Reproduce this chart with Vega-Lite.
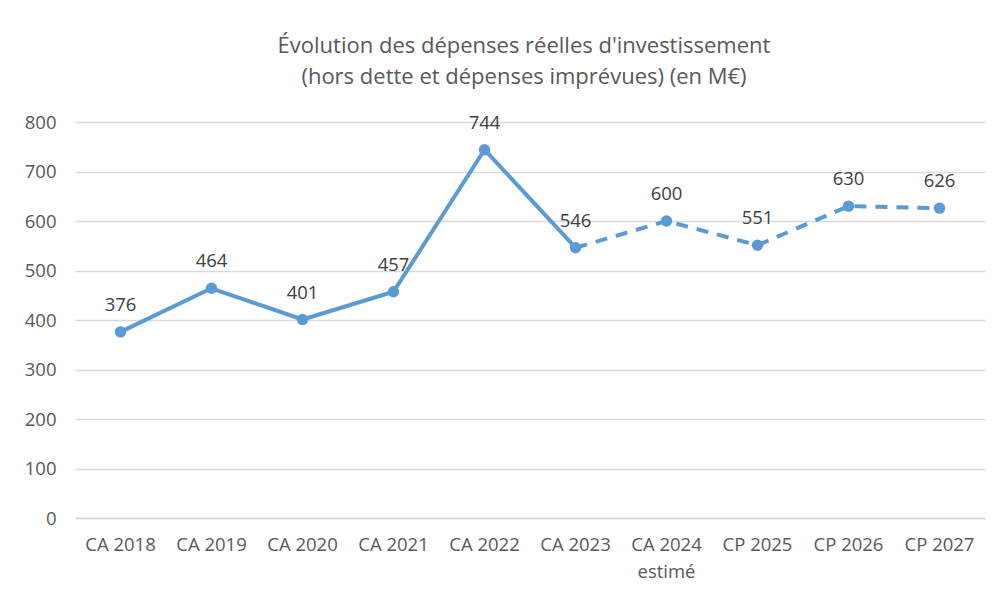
{
  "$schema": "https://vega.github.io/schema/vega-lite/v6.json",
  "autosize": "none",
  "width": 910,
  "height": 396,
  "padding": {"left": 75, "top": 122, "right": 12, "bottom": 72},
  "background": "white",
  "title": {
    "text": ["Évolution des dépenses réelles d'investissement", "(hors dette et dépenses imprévues) (en M€)"],
    "font": "Open Sans",
    "fontSize": 22,
    "fontWeight": "normal",
    "color": "#595959",
    "lineHeight": 31,
    "anchor": "middle",
    "dx": -6,
    "offset": 24
  },
  "data": {
    "values": [
      {"ordre": 1, "exercice": "CA 2018", "montant": 376},
      {"ordre": 2, "exercice": "CA 2019", "montant": 464},
      {"ordre": 3, "exercice": "CA 2020", "montant": 401},
      {"ordre": 4, "exercice": "CA 2021", "montant": 457},
      {"ordre": 5, "exercice": "CA 2022", "montant": 744},
      {"ordre": 6, "exercice": "CA 2023", "montant": 546},
      {"ordre": 7, "exercice": "CA 2024", "montant": 600},
      {"ordre": 8, "exercice": "CP 2025", "montant": 551},
      {"ordre": 9, "exercice": "CP 2026", "montant": 630},
      {"ordre": 10, "exercice": "CP 2027", "montant": 626}
    ]
  },
  "encoding": {
    "x": {
      "field": "exercice",
      "type": "ordinal",
      "sort": {"field": "ordre"},
      "scale": {"type": "band", "paddingInner": 0, "paddingOuter": 0},
      "axis": {
        "title": null,
        "labelAngle": 0,
        "labelFont": "Open Sans",
        "labelFontSize": 18.5,
        "labelColor": "#595959",
        "labelPadding": 17,
        "labelLineHeight": 27,
        "labelExpr": "datum.label == 'CA 2024' ? ['CA 2024', 'estimé'] : datum.label",
        "ticks": false,
        "domain": true,
        "domainColor": "#D9D9D9",
        "domainWidth": 1.5,
        "grid": false
      }
    },
    "y": {
      "field": "montant",
      "type": "quantitative",
      "scale": {"domain": [0, 800], "nice": false},
      "axis": {
        "title": null,
        "values": [0, 100, 200, 300, 400, 500, 600, 700, 800],
        "labelFont": "Open Sans",
        "labelFontSize": 18.5,
        "labelColor": "#595959",
        "labelPadding": 19,
        "ticks": false,
        "domain": false,
        "grid": true,
        "gridColor": "#D9D9D9",
        "gridWidth": 1.5
      }
    }
  },
  "layer": [
    {
      "transform": [{"filter": "datum.ordre <= 6"}],
      "mark": {"type": "line", "color": "#5B9BD5", "strokeWidth": 4, "strokeCap": "round", "strokeJoin": "round"}
    },
    {
      "transform": [{"filter": "datum.ordre >= 6"}],
      "mark": {"type": "line", "color": "#5B9BD5", "strokeWidth": 4, "strokeDash": [12, 9]}
    },
    {
      "mark": {"type": "point", "filled": true, "color": "#5B9BD5", "size": 130, "opacity": 1}
    },
    {
      "mark": {"type": "text", "font": "Open Sans", "fontSize": 18.5, "color": "#404040", "baseline": "alphabetic", "dy": -21},
      "encoding": {"text": {"field": "montant", "type": "quantitative"}}
    }
  ],
  "config": {"view": {"stroke": null}}
}
